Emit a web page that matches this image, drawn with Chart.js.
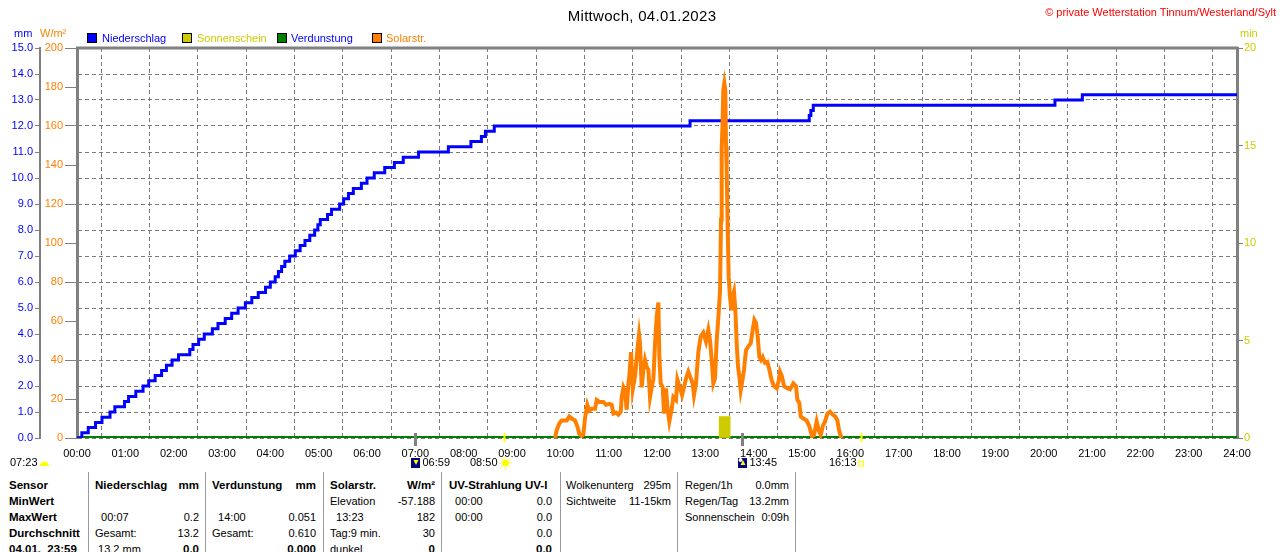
<!DOCTYPE html>
<html lang="de">
<head>
<meta charset="utf-8">
<title>Mittwoch, 04.01.2023</title>
<script src="https://cdn.jsdelivr.net/npm/chart.js@4.4.0/dist/chart.umd.min.js"></script>
<style>
    body {
        margin: 0;
        width: 1280px;
        height: 552px;
        overflow: hidden;
        position: relative;
        background: #fff;
        font-family: "Liberation Sans", Arial, sans-serif;
        font-size: 11px;
        color: #000;
    }
    #chart { position: absolute; left: 0; top: 0; }
    .abs { position: absolute; white-space: pre; line-height: 13px; }
    .title { left: 0; width: 1284px; top: 8px; text-align: center; font-size: 15px; line-height: 16px; letter-spacing: 0.3px; }
    .copy { right: 4px; top: 6px; color: #ff0000; }
    .box { position: absolute; top: 33px; width: 8px; height: 8px; border: 1px solid #000; }
    .sep { position: absolute; top: 472px; width: 1px; height: 80px; background: #9a9a9a; }
    .col { position: absolute; top: 477px; }
    .row { position: relative; height: 16px; line-height: 16px; white-space: pre; }
    .row .r { position: absolute; right: 0; top: 0; }
    .b { font-weight: bold; font-size: 11.5px; }
</style>
</head>
<body>
<canvas id="chart" width="1280" height="470"></canvas>

<div class="abs title">Mittwoch, 04.01.2023</div>
<div class="abs copy">© private Wetterstation Tinnum/Westerland/Sylt</div>

<div class="abs" style="left:14px;top:27px;color:#0000ff">mm</div>
<div class="abs" style="left:40px;top:27px;color:#ff8000">W/m²</div>
<div class="abs" style="left:1240px;top:27px;color:#cccc00">min</div>

<div class="box" style="left:87px;background:#0000ff"></div>
<div class="abs" style="left:102px;top:32px;color:#0000ff">Niederschlag</div>
<div class="box" style="left:182px;background:#cccc00"></div>
<div class="abs" style="left:197px;top:32px;color:#cccc00">Sonnenschein</div>
<div class="box" style="left:277px;background:#008000"></div>
<div class="abs" style="left:291px;top:32px;color:#0000ff">Verdunstung</div>
<div class="box" style="left:372px;background:#ff8000"></div>
<div class="abs" style="left:386px;top:32px;color:#ff8000">Solarstr.</div>

<!-- Tabelle unter dem Diagramm -->
<div class="sep" style="left:88px"></div>
<div class="sep" style="left:205px"></div>
<div class="sep" style="left:323px"></div>
<div class="sep" style="left:441px"></div>
<div class="sep" style="left:560px"></div>
<div class="sep" style="left:677px"></div>
<div class="sep" style="left:795px"></div>

<div class="col" style="left:9px;width:76px">
    <div class="row b">Sensor</div>
    <div class="row b">MinWert</div>
    <div class="row b">MaxWert</div>
    <div class="row b">Durchschnitt</div>
    <div class="row b">04.01.  23:59</div>
</div>
<div class="col" style="left:95px;width:104px">
    <div class="row b"><span>Niederschlag</span><span class="r">mm</span></div>
    <div class="row"></div>
    <div class="row"><span>  00:07</span><span class="r">0.2</span></div>
    <div class="row"><span>Gesamt:</span><span class="r">13.2</span></div>
    <div class="row"><span> 13.2 mm</span><span class="r b">0.0</span></div>
</div>
<div class="col" style="left:212px;width:104px">
    <div class="row b"><span>Verdunstung</span><span class="r">mm</span></div>
    <div class="row"></div>
    <div class="row"><span>  14:00</span><span class="r">0.051</span></div>
    <div class="row"><span>Gesamt:</span><span class="r">0.610</span></div>
    <div class="row"><span></span><span class="r b">0.000</span></div>
</div>
<div class="col" style="left:330px;width:105px">
    <div class="row b"><span>Solarstr.</span><span class="r">W/m²</span></div>
    <div class="row"><span>Elevation</span><span class="r">-57.188</span></div>
    <div class="row"><span>  13:23</span><span class="r">182</span></div>
    <div class="row"><span>Tag:9 min.</span><span class="r">30</span></div>
    <div class="row"><span>dunkel</span><span class="r b">0</span></div>
</div>
<div class="col" style="left:449px;width:103px">
    <div class="row b"><span>UV-Strahlung UV-I</span></div>
    <div class="row"><span>  00:00</span><span class="r">0.0</span></div>
    <div class="row"><span>  00:00</span><span class="r">0.0</span></div>
    <div class="row"><span></span><span class="r">0.0</span></div>
    <div class="row"><span></span><span class="r b">0.0</span></div>
</div>
<div class="col" style="left:566px;width:105px">
    <div class="row"><span>Wolkenunterg</span><span class="r">295m</span></div>
    <div class="row"><span>Sichtweite</span><span class="r">11-15km</span></div>
</div>
<div class="col" style="left:685px;width:104px">
    <div class="row"><span>Regen/1h</span><span class="r">0.0mm</span></div>
    <div class="row"><span>Regen/Tag</span><span class="r">13.2mm</span></div>
    <div class="row"><span>Sonnenschein</span><span class="r">0:09h</span></div>
</div>

<script>
// Niederschlag, Summe in mm (Minute des Tages, Wert ab dieser Minute)
const rainMinutes = [0, 6, 14, 23, 31, 41, 47, 59, 64, 73, 82, 89, 97, 105, 111, 118, 126, 140, 144, 151,
    158, 168, 175, 184, 192, 200, 209, 217, 225, 234, 240, 246, 250, 254, 258, 264, 271, 277, 283, 289,
    295, 299, 302, 311, 316, 326, 331, 337, 343, 353, 360, 369, 382, 394, 405, 424, 461, 489, 502, 507,
    518, 761, 909, 911, 914, 1214, 1248, 1440];
const rainMm = [0, 0.2, 0.4, 0.6, 0.8, 1.0, 1.2, 1.4, 1.6, 1.8, 2.0, 2.2, 2.4, 2.6, 2.8, 3.0, 3.2, 3.4, 3.6, 3.8,
    4.0, 4.2, 4.4, 4.6, 4.8, 5.0, 5.2, 5.4, 5.6, 5.8, 6.0, 6.2, 6.4, 6.6, 6.8, 7.0, 7.2, 7.4, 7.6, 7.8,
    8.0, 8.2, 8.4, 8.6, 8.8, 9.0, 9.2, 9.4, 9.6, 9.8, 10.0, 10.2, 10.4, 10.6, 10.8, 11.0, 11.2, 11.4, 11.6, 11.8,
    12.0, 12.2, 12.4, 12.6, 12.8, 13.0, 13.2, 13.2];

// Solarstrahlung in W/m²
const solarMinutes = [593.4, 595.5, 598.8, 601.7, 607.9, 611.2, 614.1, 618.2, 621.1, 623.6, 626.6, 628.6,
    630.6, 633.5, 636.0, 639.0, 643.1, 645.2, 648.5, 653.4, 656.7, 660.9, 663.8, 665.9, 669.1, 672.0,
    675.0, 676.2, 678.3, 680.3, 682.4, 684.5, 685.7, 687.8, 689.9, 692.7, 695.6, 697.7, 698.9, 701.0,
    703.1, 705.1, 707.2, 709.3, 711.3, 713.4, 715.5, 717.5, 719.6, 721.7, 722.9, 724.6, 727.1, 728.7,
    731.2, 732.9, 735.3, 738.3, 740.3, 743.6, 745.3, 748.6, 751.1, 753.6, 756.0, 758.9, 761.0, 764.3,
    765.9, 768.4, 771.3, 774.2, 777.5, 780.8, 783.7, 785.8, 787.9, 789.9, 792.0, 794.1, 796.2, 798.2,
    799.5, 800.3, 801.5, 802.3, 803.6, 804.8, 805.7, 806.5, 807.8, 809.0, 810.6, 812.3, 814.0, 815.6,
    817.3, 818.9, 820.6, 822.2, 823.9, 826.0, 828.0, 830.5, 833.4, 836.3, 838.8, 840.9, 842.9, 845.0,
    847.1, 849.1, 851.2, 854.1, 857.0, 859.5, 862.4, 865.3, 868.6, 871.1, 872.7, 875.2, 877.7, 881.8,
    885.1, 889.3, 892.6, 894.3, 896.7, 898.4, 901.7, 905.8, 909.1, 912.4, 914.9, 918.2, 920.7, 923.2,
    925.7, 928.6, 931.5, 934.8, 938.1, 941.4, 943.9, 946.0, 948.1, 949.7];
const solarW = [0, 4, 7.5, 9, 9, 11, 10, 9, 6, 2, 1, 2,
    10, 17, 14, 15, 15, 19.5, 18.5, 18.5, 17, 17.5, 17, 12.5, 13, 12,
    13.5, 21, 26, 24, 14.5, 28, 32, 44, 25, 31.5, 45, 53, 48.5, 26,
    35, 40, 36.5, 35, 21, 26, 30, 48, 62, 69.5, 42, 28, 26, 12.5,
    25.5, 16, 8.5, 15, 21, 19.5, 30, 25.5, 22, 26, 30.5, 34, 31.5, 28,
    22, 28, 44, 52, 54, 49.5, 55.5, 50, 40, 28, 30.5, 50, 62, 75,
    112, 148, 163, 178.5, 182, 178.5, 149.5, 137.5, 106.5, 82.5, 72.5, 65.5, 72.5, 75,
    65.5, 48.5, 36.5, 31.5, 24.5, 29.5, 35, 45, 47, 48.5, 55.5, 60.5, 59, 52,
    41.5, 40, 41.5, 38.5, 39, 35, 29.5, 26.5, 25.5, 29.5, 34, 31.5, 26.5, 25.5,
    25, 28, 26.5, 19.5, 18, 11, 10, 9, 6, 1, 1.5, 8.5, 4, 1.5,
    6, 8.5, 12.5, 13.5, 12, 11, 9, 4, 1, 0];

// Sonnenschein in Minuten
const sunMinutes = [804];
const sunValues = [1.1];

// Verdunstung in mm
const evapMinutes = [0, 1440];
const evapMm = [0.04, 0.04];

// Mond- und Sonnenauf-/untergang
const eventMinutes = [419, 530, 825, 973];
const eventLabels = ['06:59', '08:50', '13:45', '16:13'];
const eventKinds = ['moonrise', 'sunrise', 'moonset', 'sunset'];
const dayLength = '07:23';

const toPoints = (xs, ys) => xs.map((x, i) => ({ x, y: ys[i] }));
const hhmm = v => String(Math.floor(v / 60)).padStart(2, '0') + ':' + String(v % 60).padStart(2, '0');

const FONT = { family: '"Liberation Sans", Arial, sans-serif', size: 11 };
const GRID = '#7a7a7a';
const FRAME = '#808080';

const frame = {
    id: 'frame',
    beforeDatasetsDraw(chart) {
        const { ctx, chartArea: { left, right, top } } = chart;
        ctx.save();
        ctx.strokeStyle = FRAME;
        ctx.lineWidth = 3;
        ctx.beginPath();
        ctx.moveTo(left - 1, top);
        ctx.lineTo(right + 1, top);
        ctx.stroke();
        ctx.restore();
    },
};

const events = {
    id: 'events',
    afterDraw(chart) {
        const { ctx, chartArea: { bottom } } = chart;
        const xScale = chart.scales.x;
        const ly = bottom + 25;
        ctx.save();
        ctx.font = `11px ${FONT.family}`;
        ctx.textBaseline = 'middle';
        ctx.fillStyle = '#000';

        // Tageslänge links
        ctx.textAlign = 'left';
        ctx.fillText(dayLength, 10, ly);
        ctx.fillStyle = '#ffff00';
        ctx.beginPath();
        ctx.arc(44.5, ly + 3, 4.5, Math.PI, 0);
        ctx.fill();

        eventMinutes.forEach((m, i) => {
            const px = Math.round(xScale.getPixelForValue(m)) + 0.5;
            const kind = eventKinds[i];
            const isSun = kind === 'sunrise' || kind === 'sunset';
            ctx.strokeStyle = isSun ? '#ffff00' : '#808080';
            ctx.lineWidth = isSun ? 2 : 3;
            ctx.beginPath();
            ctx.moveTo(px, bottom - 5);
            ctx.lineTo(px, bottom + (isSun ? 4 : 8));
            ctx.stroke();

            ctx.fillStyle = '#000';
            if (kind === 'moonrise' || kind === 'moonset') {
                ctx.fillStyle = '#000080';
                ctx.fillRect(px - 4.5, ly - 5, 9, 10);
                ctx.fillStyle = '#ffff00';
                ctx.beginPath();
                if (kind === 'moonrise') {
                    ctx.moveTo(px - 2, ly - 3); ctx.lineTo(px + 3, ly - 3); ctx.lineTo(px + 0.5, ly + 2);
                } else {
                    ctx.moveTo(px - 2, ly + 2); ctx.lineTo(px + 3, ly + 2); ctx.lineTo(px + 0.5, ly - 3);
                }
                ctx.fill();
                if (kind === 'moonset') {
                    ctx.fillStyle = '#ffffff';
                    ctx.beginPath();
                    ctx.arc(px - 2, ly - 3, 2, 0, Math.PI * 2);
                    ctx.fill();
                }
                ctx.fillStyle = '#000';
                ctx.textAlign = 'left';
                ctx.fillText(eventLabels[i], px + 7, ly);
            } else if (kind === 'sunrise') {
                ctx.fillStyle = '#ffff00';
                ctx.strokeStyle = '#ffff00';
                ctx.lineWidth = 1;
                ctx.beginPath();
                ctx.arc(px + 1, ly, 3.5, 0, Math.PI * 2);
                ctx.fill();
                for (let a = 0; a < 8; a++) {
                    const ang = a * Math.PI / 4;
                    ctx.beginPath();
                    ctx.moveTo(px + 1 + Math.cos(ang) * 4.5, ly + Math.sin(ang) * 4.5);
                    ctx.lineTo(px + 1 + Math.cos(ang) * 6.5, ly + Math.sin(ang) * 6.5);
                    ctx.stroke();
                }
                ctx.fillStyle = '#000';
                ctx.textAlign = 'right';
                ctx.fillText(eventLabels[i], px - 7, ly);
            } else {
                ctx.strokeStyle = '#ffff00';
                ctx.lineWidth = 1;
                ctx.strokeRect(px - 3, ly - 2, 5, 5);
                ctx.fillStyle = '#000';
                ctx.textAlign = 'right';
                ctx.fillText(eventLabels[i], px - 5, ly);
            }
        });
        ctx.restore();
    },
};

new Chart(document.getElementById('chart'), {
    type: 'line',
    data: {
        datasets: [
            {
                label: 'Solarstr.',
                data: toPoints(solarMinutes, solarW),
                yAxisID: 'yW',
                borderColor: '#ff8000',
                borderWidth: 4,
                pointRadius: 0,
                order: 0,
            },
            {
                label: 'Niederschlag',
                data: toPoints(rainMinutes, rainMm),
                yAxisID: 'yMm',
                borderColor: '#0000ff',
                borderWidth: 3,
                stepped: true,
                pointRadius: 0,
                order: 1,
            },
            {
                type: 'bar',
                label: 'Sonnenschein',
                data: toPoints(sunMinutes, sunValues),
                yAxisID: 'yMin',
                backgroundColor: '#cccc00',
                barThickness: 11,
                order: 2,
            },
            {
                label: 'Verdunstung',
                data: toPoints(evapMinutes, evapMm),
                yAxisID: 'yMm',
                borderColor: '#008000',
                borderWidth: 2,
                pointRadius: 0,
                order: 3,
            },
        ],
    },
    options: {
        responsive: false,
        animation: false,
        events: [],
        layout: { padding: { top: 48, left: 0, right: 0, bottom: 0 } },
        plugins: {
            legend: { display: false },
            tooltip: { enabled: false },
        },
        scales: {
            x: {
                type: 'linear',
                min: 0,
                max: 1440,
                offset: false,
                afterFit: s => { s.height = 32; },
                ticks: {
                    stepSize: 60,
                    maxTicksLimit: 30,
                    autoSkip: false,
                    maxRotation: 0,
                    padding: 9,
                    color: '#000',
                    font: FONT,
                    callback: v => hhmm(v),
                },
                grid: {
                    color: GRID,
                    drawTicks: false,
                },
                border: { display: false, dash: [4, 3] },
            },
            yMm: {
                position: 'left',
                weight: 10,
                min: 0,
                max: 15,
                afterFit: s => { s.width = 40; },
                ticks: {
                    stepSize: 1,
                    autoSkip: false,
                    padding: 2,
                    color: '#0000ff',
                    font: FONT,
                    callback: v => v.toFixed(1),
                },
                grid: {
                    color: GRID,
                    tickColor: FRAME,
                    tickBorderDash: [],
                    tickLength: 5,
                },
                border: { color: FRAME, width: 2, dash: [4, 3] },
            },
            yW: {
                position: 'left',
                weight: 0,
                min: 0,
                max: 200,
                afterFit: s => { s.width = 37; },
                ticks: {
                    stepSize: 20,
                    autoSkip: false,
                    padding: 2,
                    color: '#ff8000',
                    font: FONT,
                },
                grid: {
                    drawOnChartArea: false,
                    tickColor: FRAME,
                    tickLength: 12,
                },
                border: { color: FRAME, width: 3 },
            },
            yMin: {
                position: 'right',
                min: 0,
                max: 20,
                afterFit: s => { s.width = 43; },
                ticks: {
                    stepSize: 5,
                    autoSkip: false,
                    padding: 1,
                    color: '#cccc00',
                    font: FONT,
                },
                grid: {
                    drawOnChartArea: false,
                    tickColor: FRAME,
                    tickLength: 6,
                },
                border: { color: FRAME, width: 3 },
            },
        },
    },
    plugins: [frame, events],
});
</script>
</body>
</html>
